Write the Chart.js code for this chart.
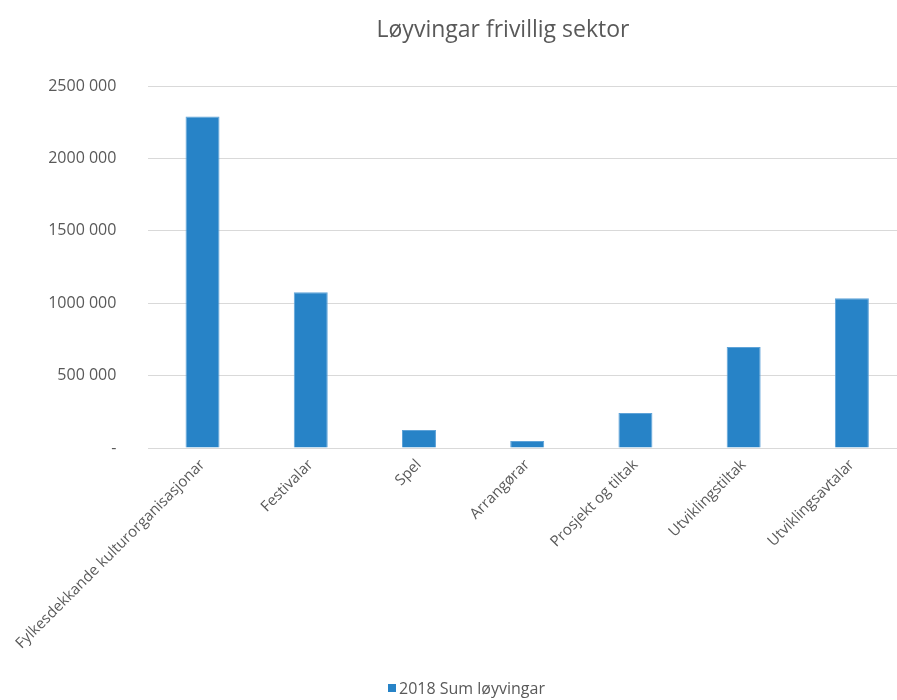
<!DOCTYPE html>
<html>
<head>
<meta charset="utf-8">
<script src="https://cdn.jsdelivr.net/npm/chart.js@4/dist/chart.umd.min.js"></script>
<style>
  html,body{margin:0;padding:0;background:#fff;overflow:hidden;}
  #wrap{position:relative;width:906px;height:700px;}
  #title{position:absolute;left:0;width:1006px;top:12px;text-align:center;
    font:23px "Open Sans",sans-serif;color:#595959;}
  #legend{position:absolute;left:388px;top:677px;font:16px "Open Sans",sans-serif;color:#595959;
    display:flex;align-items:center;}
  #legend i{display:inline-block;width:8px;height:8px;background:#2783C7;margin-right:3px;}
  canvas{position:absolute;left:0;top:0;}
</style>
</head>
<body>
<div id="wrap">
  <canvas id="c" width="906" height="700"></canvas>
  <div id="title">Løyvingar frivillig sektor</div>
  <div id="legend"><i></i>2018 Sum løyvingar</div>
</div>
<script>
/* ── DATA ── */
const categories = ['Fylkesdekkande kulturorganisasjonar','Festivalar','Spel','Arrangørar',
                    'Prosjekt og tiltak','Utviklingstiltak','Utviklingsavtalar'];
const seriesName = '2018 Sum løyvingar';
const values = [2290000, 1075000, 124000, 48000, 242000, 697000, 1034000];
const yTicks = [0, 500000, 1000000, 1500000, 2000000, 2500000];

const fmtY = v => v===0 ? '-' : `${Math.floor(v/1000)} ${String(v%1000).padStart(3,'0')}`;
const grey = '#595959';

new Chart(document.getElementById('c').getContext('2d'),{
  type:'bar',
  data:{ labels:categories,
    datasets:[{ label:seriesName, data:values, backgroundColor:'#2783C7',
      borderColor:'#5fa3d8', borderWidth:1, barPercentage:0.314, categoryPercentage:1 }]
  },
  options:{
    responsive:false, animation:false,
    layout:{ padding:{ top:86, left:0, right:0, bottom:0 } },
    plugins:{ legend:{display:false}, title:{display:false}, tooltip:{enabled:false} },
    scales:{
      x:{
        grid:{ display:false, drawTicks:false },
        border:{ display:false },
        ticks:{ color:grey, font:{family:'"Open Sans"',size:15}, minRotation:45, maxRotation:45, padding:8, autoSkip:false },
        afterFit:s=>{ s.height = 252; }
      },
      y:{
        min:0, max:2500000,
        afterBuildTicks:s=>{ s.ticks = yTicks.map(v=>({value:v})); },
        grid:{ color:'#d9d9d9', lineWidth:1, drawTicks:false },
        border:{ display:false },
        ticks:{ color:grey, font:{family:'"Open Sans"',size:16}, padding:32, callback:v=>fmtY(v) },
        afterFit:s=>{ s.width = 148; }
      }
    }
  }
});
</script>
</body>
</html>
